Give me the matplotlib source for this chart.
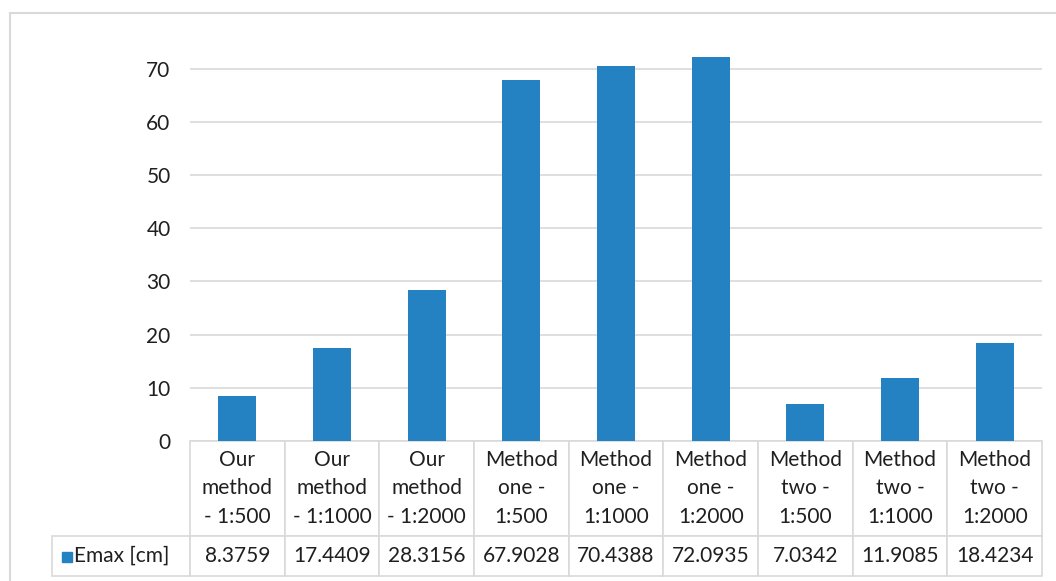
import matplotlib.pyplot as plt
from matplotlib.patches import Rectangle

categories = ["Our\nmethod\n- 1:500", "Our\nmethod\n- 1:1000", "Our\nmethod\n- 1:2000",
              "Method\none -\n1:500", "Method\none -\n1:1000", "Method\none -\n1:2000",
              "Method\ntwo -\n1:500", "Method\ntwo -\n1:1000", "Method\ntwo -\n1:2000"]
emax = [8.3759, 17.4409, 28.3156, 67.9028, 70.4388, 72.0935, 7.0342, 11.9085, 18.4234]
value_labels = ["8.3759", "17.4409", "28.3156", "67.9028", "70.4388", "72.0935",
                "7.0342", "11.9085", "18.4234"]
series_name = "Emax [cm]"
yticks = [0, 10, 20, 30, 40, 50, 60, 70]

bar_color = '#2481c2'
grid_color = '#d9d9d9'
text_color = '#1f1f1f'

plt.rcParams['font.family'] = ['Lato', 'DejaVu Sans']
fig = plt.figure(figsize=(10.56, 5.81), dpi=100)
W, H = 1056, 581

# outer chart border
fig.patches.append(Rectangle((10 / W, -0.1), 1.2, (581 - 13) / H + 0.1, transform=fig.transFigure,
                             fill=False, edgecolor=grid_color, linewidth=1.5))

ax = fig.add_axes([190 / W, (581 - 441) / H, (1042 - 190) / W, (441 - 42) / H])
x = list(range(len(emax)))
ax.bar(x, emax, width=0.4, color=bar_color, zorder=3)
ax.set_xlim(-0.5, len(emax) - 0.5)
ax.set_ylim(0, 75)
ax.set_yticks(yticks)
ax.set_xticks([])
ax.grid(axis='y', color=grid_color, linewidth=1.2, zorder=0)
for s in ax.spines.values():
    s.set_visible(False)
ax.tick_params(axis='y', length=0, pad=14, labelsize=15, labelcolor=text_color)

# data table under the plot; first column holds the series label
tbl = ax.table(cellText=[[""] + value_labels], colLabels=[""] + categories,
               cellLoc='center',
               bbox=[-138 / 852, -135 / 399, 990 / 852, 135 / 399])
tbl.auto_set_font_size(False)
for (r, c), cell in tbl.get_celld().items():
    cell.set_edgecolor(grid_color)
    cell.set_linewidth(1.2)
    cell.get_text().set_fontsize(15)
    cell.get_text().set_color(text_color)
    cell.set_height(95 if r == 0 else 40)
    cell.set_width(138 if c == 0 else 94.7)
    if r == 0:
        cell.get_text().set_linespacing(1.55)
    if r == 0 and c == 0:
        cell.visible_edges = ''

# legend key and series name in the label cell
ax.add_patch(Rectangle((-128 / 852, -121 / 399), 10 / 852, 10 / 399, transform=ax.transAxes,
                       color=bar_color, clip_on=False, zorder=5))
ax.text(-116 / 852, -115 / 399, series_name, transform=ax.transAxes, fontsize=15,
        color=text_color, ha='left', va='center')

fig.savefig("out.png", dpi=100)
